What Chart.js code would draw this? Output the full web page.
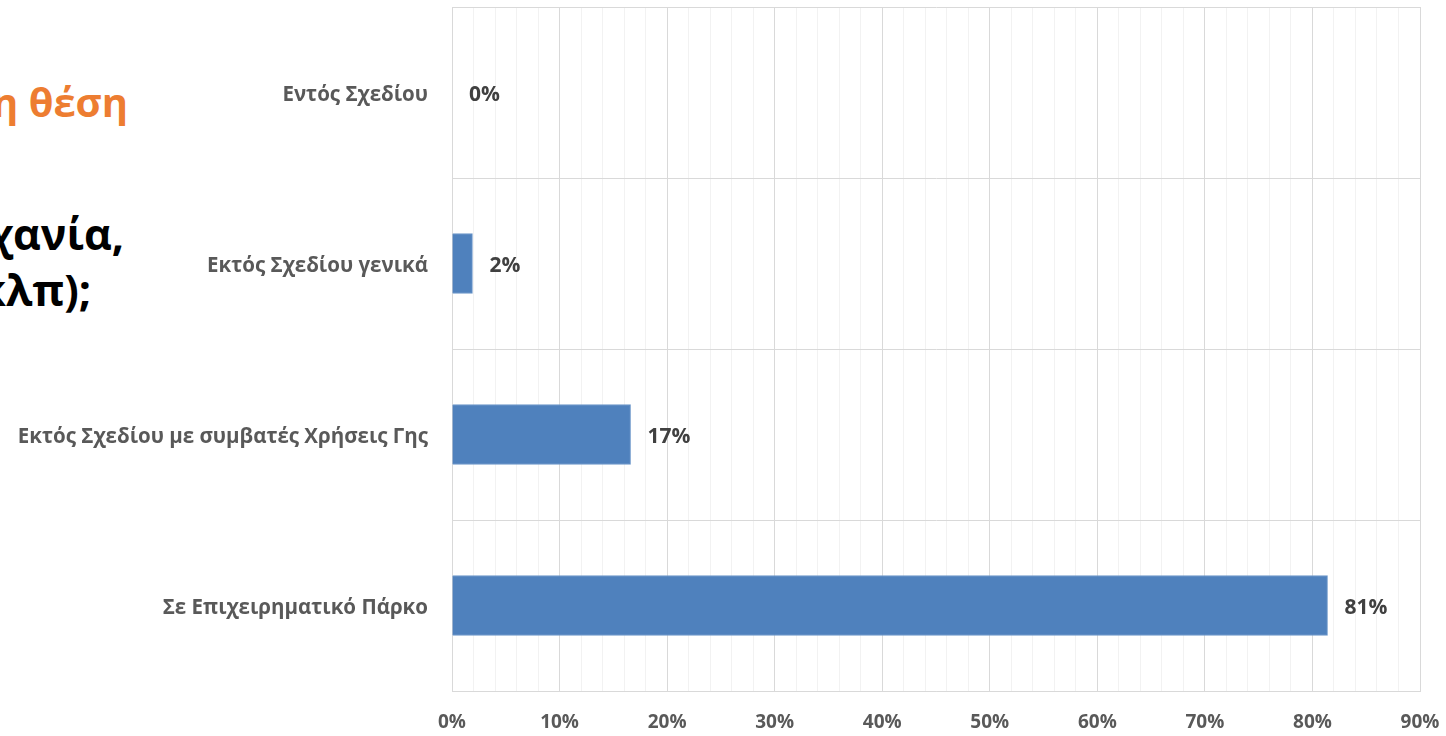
<!DOCTYPE html>
<html>
<head>
<meta charset="utf-8">
<script src="https://cdn.jsdelivr.net/npm/chart.js@4.4.1/dist/chart.umd.min.js"></script>
<style>
  html, body { margin: 0; padding: 0; background: #fff; overflow: hidden; }
  #wrap { position: relative; width: 1446px; height: 736px; }
  #chartCanvas { position: absolute; left: 0; top: 0; }
  .frag { position: absolute; font-family: "Open Sans", sans-serif; font-weight: 700; white-space: nowrap; text-align: right; }
</style>
</head>
<body>
<div id="wrap">
  <div class="frag" style="right:1318px; top:74px; font-size:40px; color:#ED7D31;">η θέση</div>
  <div class="frag" style="right:1322px; top:204px; font-size:43px; color:#000;">χανία,</div>
  <div class="frag" style="right:1355px; top:260px; font-size:43px; color:#000;">κλπ);</div>
  <canvas id="chartCanvas" width="1446" height="736"></canvas>
</div>
<script>
const categories = ['Εντός Σχεδίου', 'Εκτός Σχεδίου γενικά', 'Εκτός Σχεδίου με συμβατές Χρήσεις Γης', 'Σε Επιχειρηματικό Πάρκο'];
const shares = [0, 1.9, 16.6, 81.4];
const shareLabels = ['0%', '2%', '17%', '81%'];

window.addEventListener("DOMContentLoaded", () => {
  const ctx = document.getElementById('chartCanvas').getContext('2d');

  // value labels to the right of each bar
  const valueLabels = {
    id: 'valueLabels',
    afterDatasetsDraw(chart) {
      const c = chart.ctx;
      const meta = chart.getDatasetMeta(0);
      c.save();
      c.font = 'bold 21px "Open Sans", sans-serif';
      c.fillStyle = '#404040';
      c.textBaseline = 'middle';
      c.textAlign = 'left';
      meta.data.forEach((bar, i) => {
        c.fillText(shareLabels[i], bar.x + 17, bar.y + 3);
      });
      c.restore();
    }
  };

  new Chart(ctx, {
    type: 'bar',
    data: {
      labels: categories,
      datasets: [{
        data: shares,
        backgroundColor: '#4F81BD',
        borderColor: '#6E98CB',
        borderWidth: 1,
        barThickness: 60
      }]
    },
    options: {
      indexAxis: 'y',
      responsive: false,
      animation: false,
      layout: { padding: { top: 7, right: 26, left: 0, bottom: 0 } },
      plugins: { legend: { display: false }, tooltip: { enabled: false } },
      scales: {
        x: {
          min: 0,
          max: 90,
          ticks: {
            stepSize: 2,
            autoSkip: false,
            maxRotation: 0,
            padding: 20,
            color: '#595959',
            font: { family: 'Open Sans', size: 19, weight: 'bold' },
            callback: v => (v % 10 === 0 ? v + '%' : '')
          },
          grid: {
            drawTicks: false,
            color: c => (c.tick && c.tick.value % 10 === 0 ? '#D9D9D9' : '#F2F2F2'),
            lineWidth: 1
          },
          border: { color: '#D9D9D9' },
          afterFit: s => { s.height = 45; s.paddingLeft = 0; s.paddingRight = 0; }
        },
        y: {
          ticks: {
            padding: 24,
            labelOffset: 3,
            color: '#595959',
            font: { family: 'Open Sans', size: 20.5, weight: 'bold' }
          },
          grid: { drawTicks: false, color: '#D9D9D9', offset: true },
          border: { color: '#D9D9D9' },
          afterFit: s => { s.width = 452; s.paddingTop = 0; s.paddingBottom = 0; }
        }
      }
    },
    plugins: [valueLabels]
  });
});
</script>
</body>
</html>
